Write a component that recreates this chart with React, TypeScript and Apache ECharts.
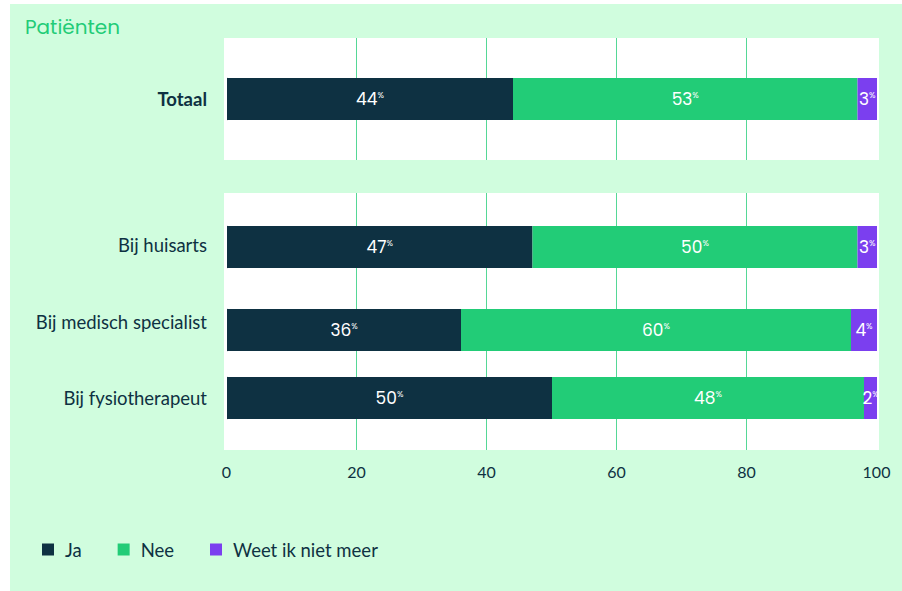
import React, { useEffect, useRef } from "react";
import * as echarts from "echarts";

const categories = ["Totaal", "Bij huisarts", "Bij medisch specialist", "Bij fysiotherapeut"];
const seriesNames = ["Ja", "Nee", "Weet ik niet meer"];
const ja = [44, 47, 36, 50];
const nee = [53, 50, 60, 48];
const weet = [3, 3, 4, 2];
const xTicks = [0, 20, 40, 60, 80, 100];

const colors = ["#0e3142", "#22cc77", "#7b3fef"];
const textColor = "#0e3142";
const gridLineColor = "#55d896";
const labelFont = "Lato, 'Noto Sans', sans-serif";
const barFont = "Poppins, Inter, 'Open Sans', sans-serif";

export default function App() {
  const ref = useRef<HTMLDivElement>(null);
  useEffect(() => {
    if (!ref.current) return;
    const chart = echarts.init(ref.current, null, { renderer: "svg" });

    const rowTops = [74, 222, 305, 373];
    const labelShift = [0, 4, 16, 0];
    const values = [ja, nee, weet];

    const baseX = (idx: number) => ({
      type: "value",
      gridIndex: idx,
      min: xTicks[0],
      max: xTicks[xTicks.length - 1],
      interval: 20,
    });
    const hiddenY = (idx: number) => ({
      type: "category",
      gridIndex: idx,
      data: [""],
      show: false,
    });
    const splitX = (idx: number, showLabels: boolean) => ({
      ...baseX(idx),
      show: true,
      axisLine: { show: false },
      axisTick: { show: false },
      axisLabel: { show: showLabels, color: textColor, fontSize: 16, fontFamily: labelFont, margin: 13 },
      splitLine: {
        show: true,
        showMinLine: false,
        showMaxLine: false,
        lineStyle: { color: gridLineColor, width: 1, type: "solid" },
      },
    });

    const grids: any[] = [
      { left: 214, right: 23, top: 34, height: 122, show: true, backgroundColor: "#ffffff", borderWidth: 0 },
      { left: 216.5, right: 25.5, top: 34, height: 122 },
      { left: 214, right: 23, top: 189, height: 257, show: true, backgroundColor: "#ffffff", borderWidth: 0 },
      { left: 216.5, right: 25.5, top: 189, height: 257 },
    ];
    const xAxes: any[] = [
      { ...baseX(0), show: false },
      splitX(1, false),
      { ...baseX(2), show: false },
      splitX(3, true),
    ];
    const yAxes: any[] = [hiddenY(0), hiddenY(1), hiddenY(2), hiddenY(3)];
    const series: any[] = [];

    categories.forEach((cat, i) => {
      const gi = 4 + i;
      grids.push({ left: 217, right: 25, top: rowTops[i], height: 42 });
      xAxes.push({ ...baseX(gi), show: false });
      yAxes.push({
        type: "category",
        gridIndex: gi,
        data: [cat],
        axisLine: { show: true, lineStyle: { color: "#cfcfcf", width: 1 } },
        axisTick: { show: false },
        axisLabel: {
          margin: 20,
          formatter: (v: string) => `{t|${v}}`,
          rich: {
            t: {
              color: textColor,
              fontSize: 18.5,
              fontFamily: labelFont,
              fontWeight: i === 0 ? "bold" : "normal",
              padding: [0, 0, labelShift[i], 0],
            },
          },
        },
      });
      seriesNames.forEach((name, s) => {
        series.push({
          type: "bar",
          name,
          xAxisIndex: gi,
          yAxisIndex: gi,
          stack: "row" + i,
          barWidth: 42,
          itemStyle: { color: colors[s] },
          data: [values[s][i]],
          label: {
            show: true,
            position: "inside",
            formatter: (p: any) => `{v|${p.value}}{p|%}`,
            rich: {
              v: { color: "#ffffff", fontSize: 17, fontFamily: barFont, lineHeight: 18 },
              p: { color: "#ffffff", fontSize: 8.5, fontFamily: barFont, verticalAlign: "top", lineHeight: 18, padding: [0, 0, 6, 0] },
            },
          },
        });
      });
    });

    chart.setOption({
      animation: false,
      backgroundColor: "#d0fdde",
      title: {
        text: "Patiënten",
        left: 15,
        top: 13,
        padding: 0,
        textStyle: { color: "#22cc77", fontSize: 20, fontWeight: "normal", fontFamily: barFont },
      },
      legend: {
        data: seriesNames,
        left: 32,
        top: 536,
        padding: 0,
        icon: "rect",
        itemWidth: 12,
        itemHeight: 12,
        itemGap: 36,
        textStyle: { color: textColor, fontSize: 18.5, fontFamily: labelFont, padding: [0, 0, 0, 6] },
      },
      grid: grids,
      xAxis: xAxes,
      yAxis: yAxes,
      series,
    });
    return () => chart.dispose();
  }, []);

  return (
    <div style={{ position: "absolute", left: 0, top: 0, width: 902, height: 591, background: "#ffffff" }}>
      <div ref={ref} style={{ position: "absolute", left: 10, top: 4, width: 892, height: 587 }} />
    </div>
  );
}
